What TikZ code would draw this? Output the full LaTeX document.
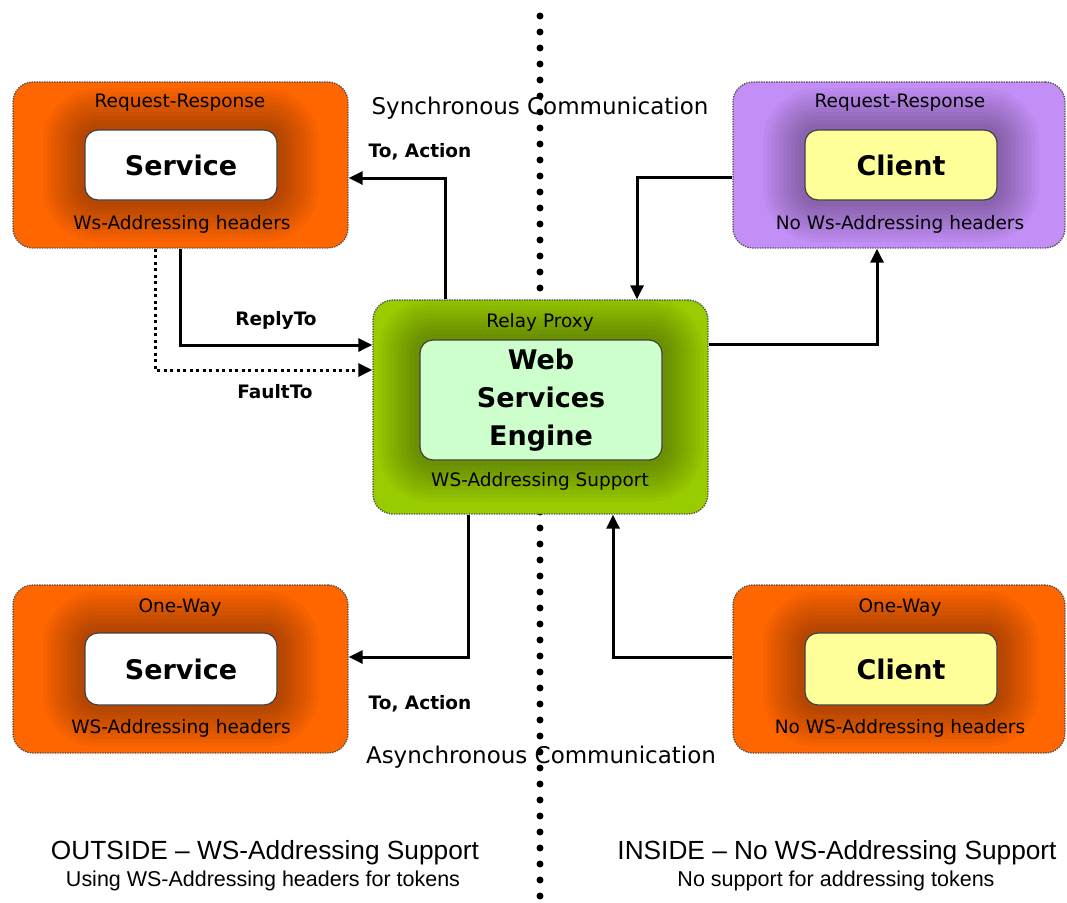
\documentclass[tikz,border=0pt]{standalone}
\usepackage{fontspec}
\setmainfont{DejaVu Sans}
\newfontfamily\arialfont{Liberation Sans}
\usetikzlibrary{arrows.meta,calc}
\definecolor{orng}{HTML}{FF6600}
\definecolor{purp}{HTML}{C38FF6}
\definecolor{grn}{HTML}{99CC00}
\definecolor{lgrn}{HTML}{CCFFCC}
\definecolor{ylw}{HTML}{FFFF99}
\begin{document}
\begin{tikzpicture}[x=1pt,y=-1pt,
  outer/.style={rounded corners=20pt, draw=black!70, line width=1.3pt, dash pattern=on 1.3pt off 1.2pt, inner sep=0pt, minimum width=335pt, minimum height=166pt},
  gl/.style={preaction={draw=black,draw opacity=0.032,line width=#1}},
  glow/.style={gl=84pt,gl=76pt,gl=68pt,gl=60pt,gl=52pt,gl=44pt,gl=36pt,gl=28pt,gl=20pt,gl=12pt},
  inner/.style={glow, rounded corners=13pt, draw=black!75, line width=1.2pt, inner sep=0pt, minimum width=192pt, minimum height=70pt, font=\fontsize{27}{38}\selectfont\bfseries, align=center},
  lbl/.style={font=\fontsize{18.5}{22}\selectfont, inner sep=0pt},
  conn/.style={line width=3pt, -{Triangle[length=14pt,width=13pt]}},
  clbl/.style={font=\fontsize{18.5}{22}\selectfont\bfseries, inner sep=0pt},
  big/.style={font=\fontsize{23}{28}\selectfont, inner sep=0pt},
  foot/.style={font=\arialfont, inner sep=0pt}]
\useasboundingbox (0,0) rectangle (1067,902);

% separator
\foreach \k in {0,...,55} \fill (540,{16+16*\k}) circle (3.5pt);

% outer boxes
\node[outer, fill=orng] (tl) at (180.5,165) {};
\node[outer, fill=purp, minimum width=332pt] (tr) at (899,165) {};
\node[outer, fill=grn, minimum height=214pt] (c) at (540.5,407) {};
\node[outer, fill=orng, minimum height=168pt] (bl) at (180.5,669) {};
\node[outer, fill=orng, minimum width=332pt, minimum height=168pt] (br) at (899,669) {};

% inner boxes
\node[inner, fill=white] (tls) at (181,165) {Service};
\node[inner, fill=ylw] (trc) at (901,165) {Client};
\node[inner, fill=lgrn, minimum width=242pt, minimum height=120pt] (ce) at (541,400) {Web\\Services\\Engine};
\node[inner, fill=white, minimum height=72pt] (bls) at (181,669) {Service};
\node[inner, fill=ylw, minimum height=72pt] (brc) at (901,669) {Client};

% box labels
\node[lbl] (tlt) at (180,103) {Request-Response};
\node[lbl] (tlb) at (182,224) {Ws-Addressing headers};
\node[lbl] (trt) at (900,103) {Request-Response};
\node[lbl] (trb) at (900,224) {No Ws-Addressing headers};
\node[lbl] (ct) at (540,322) {Relay Proxy};
\node[lbl] (cb) at (540,481) {WS-Addressing Support};
\node[lbl] (blt) at (180,608) {One-Way};
\node[lbl] (blb) at (181,728) {WS-Addressing headers};
\node[lbl] (brt) at (900,608) {One-Way};
\node[lbl] (brb) at (900,728) {No WS-Addressing headers};

% connectors
\draw[conn] ([xshift=-95.5pt]c.north) |- ([yshift=-13pt]tl.east);
\draw[conn] ([xshift=-0.5pt]tl.south) |- ([yshift=62pt]c.west);
\draw[conn, dash pattern=on 3pt off 3.5pt] ([xshift=-25.5pt]tl.south) |- ([yshift=37pt]c.west);
\draw[conn] ([yshift=-12pt]tr.west) -| ([xshift=96.5pt]c.north);
\draw[conn] ([yshift=63pt]c.east) -| ([xshift=-22pt]tr.south);
\draw[conn] ([xshift=-72.5pt]c.south) |- ([yshift=12pt]bl.east);
\draw[conn] ([yshift=12pt]br.west) -| ([xshift=72.5pt]c.south);

% connector labels
\node[clbl] (l1) at (420,152) {To, Action};
\node[clbl] (l2) at (276,320) {ReplyTo};
\node[clbl] (l3) at (275,392) {FaultTo};
\node[clbl] (l4) at (420,704) {To, Action};

% section texts
\node[big] (sync) at (540,108) {Synchronous Communication};
\node[big] (async) at (541,757) {Asynchronous Communication};
\node[foot] (out1) at (265,853) {\resizebox{428pt}{!}{OUTSIDE – WS-Addressing Support}};
\node[foot] (out2) at (263,881) {\resizebox{394pt}{!}{Using WS-Addressing headers for tokens}};
\node[foot] (in1) at (837,853) {\resizebox{439pt}{!}{INSIDE – No WS-Addressing Support}};
\node[foot] (in2) at (836,881) {\resizebox{317pt}{!}{No support for addressing tokens}};
\end{tikzpicture}
\end{document}
